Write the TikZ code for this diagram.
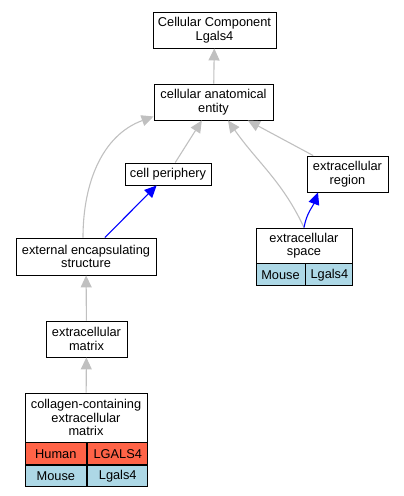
\documentclass[tikz,border=0pt]{standalone}
\usepackage{fontspec}
\setmainfont{Liberation Sans}
\usepackage{xcolor}
\usetikzlibrary{arrows.meta}
\definecolor{edgegray}{RGB}{192,192,192}
\definecolor{humanred}{RGB}{255,99,71}
\definecolor{mouseblue}{RGB}{173,216,230}
\tikzset{
term/.style={
  draw=black,
  fill=white,
  line width=0.9pt,
  inner sep=0pt,
  align=center,
  font=\fontsize{12.8}{13.4}\selectfont
},
genecell/.style={term, minimum height=22pt},
human/.style={genecell, fill=humanred},
mouse/.style={genecell, fill=mouseblue},
isa/.style={draw=edgegray, line width=1.1pt, -{Triangle[length=12pt,width=11pt,fill=edgegray]}},
partof/.style={draw=blue, line width=1.1pt, -{Triangle[length=12pt,width=11pt,fill=blue]}},
}

\begin{document}
\begin{tikzpicture}[x=1pt,y=-1pt]
\useasboundingbox (0,0) rectangle (404,496);
% the terms
\node[term, minimum width=123pt, minimum height=36pt] (cc) at (214.5,30) {Cellular Component\\Lgals4};
\node[term, minimum width=119pt, minimum height=36pt] (cae) at (213.5,102) {cellular anatomical\\entity};
\node[term, minimum width=86pt, minimum height=22pt] (cp) at (168,174) {cell periphery};
\node[term, minimum width=81pt, minimum height=36pt] (er) at (347.5,174) {extracellular\\region};
\node[term, minimum width=140pt, minimum height=37pt] (ees) at (86,256.5) {external encapsulating\\structure};
\node[term, minimum width=81pt, minimum height=36pt] (em) at (86.5,339) {extracellular\\matrix};
% the annotated terms
\node[term, minimum width=96pt, minimum height=35pt] (es) at (304,245.5) {extracellular\\space};
\node[mouse, minimum width=49pt, anchor=north west] (es-m) at (es.south west) {Mouse};
\node[mouse, minimum width=47pt, anchor=north west] (es-g) at (es-m.north east) {Lgals4};
\node[term, minimum width=122pt, minimum height=49pt] (ccm) at (86,417.5) {collagen-containing\\extracellular\\matrix};
\node[human, minimum width=61.7pt, anchor=north west] (ccm-h) at (ccm.south west) {Human};
\node[human, minimum width=60.3pt, anchor=north west] (ccm-hg) at (ccm-h.north east) {LGALS4};
\node[mouse, minimum width=61.7pt, minimum height=21pt, anchor=north west] (ccm-m) at (ccm-h.south west) {Mouse};
\node[mouse, minimum width=60.3pt, minimum height=21pt, anchor=north west] (ccm-mg) at (ccm-m.north east) {Lgals4};
% the arrows
\foreach \a/\b in {cae/cc, cp/cae, er/cae, em/ees, ccm/em}
{
  \draw[isa] (\a) -- (\b);
}
\draw[isa] (es.north) to[out=115,in=-55] ([xshift=14.5pt]cae.south);
\draw[isa] ([xshift=-3pt]ees.north) to[out=90,in=200] ([yshift=4pt]cae.south west);
\draw[partof] (ees) -- (cp);
\draw[partof] (es.north) to[out=80,in=-110] ([xshift=-29.5pt]er.south);
\end{tikzpicture}
\end{document}
